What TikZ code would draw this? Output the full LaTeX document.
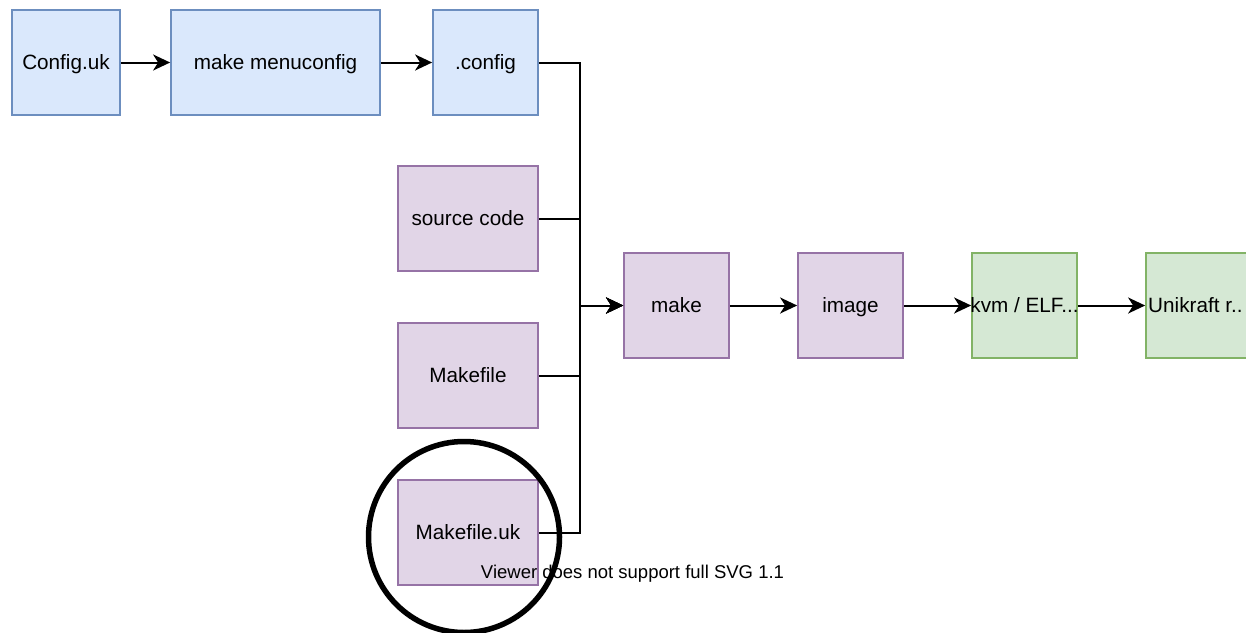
\documentclass[tikz,border=0pt]{standalone}
\usepackage{fontspec}
\setmainfont{Liberation Sans}
\usetikzlibrary{arrows.meta}
\definecolor{bluefill}{HTML}{DAE8FC}
\definecolor{bluedraw}{HTML}{6C8EBF}
\definecolor{purpfill}{HTML}{E1D5E7}
\definecolor{purpdraw}{HTML}{9673A6}
\definecolor{greenfill}{HTML}{D5E8D4}
\definecolor{greendraw}{HTML}{82B366}
\tikzset{
  boxbase/.style={rectangle, inner sep=0pt, minimum width=105pt, minimum height=105pt, line width=1.75pt, font=\fontsize{20.7}{24}\selectfont, text=black, text height=14.8pt, text depth=0pt},
  bluebox/.style={boxbase, fill=bluefill, draw=bluedraw},
  purpbox/.style={boxbase, fill=purpfill, draw=purpdraw},
  greenbox/.style={boxbase, fill=greenfill, draw=greendraw},
  conn/.style={line width=2pt, draw=black, -{Stealth[length=17pt, width=16pt, inset=5pt]}},
  labeltext/.style={font=\fontsize{20.7}{24}\selectfont, inner sep=0pt, text height=14.8pt, text depth=0pt},
}
\begin{document}
\begin{tikzpicture}[x=1pt, y=-1pt]
\useasboundingbox (0,0) rectangle (1246,632);
\clip (0,0) rectangle (1246,632);
\fill[white] (0,0) rectangle (1246,632);
\node[bluebox, minimum width=108pt] (cfguk) at (66,62.5) {Config.uk};
\node[bluebox, minimum width=209pt] (menu) at (275.5,62.5) {make menuconfig};
\node[bluebox] (cfg) at (485.5,62.5) {.config};
\node[purpbox, minimum width=140pt] (src) at (468,218.5) {source code};
\node[purpbox, minimum width=140pt] (mkf) at (468,375.5) {Makefile};
\node[purpbox, minimum width=140pt] (mkuk) at (468,532.5) {Makefile.uk};
\node[purpbox] (make) at (676.5,305.5) {make};
\node[purpbox] (img) at (850.5,305.5) {image};
\node[greenbox] (kvm) at (1024.5,305.5) {};
\node[greenbox] (uni) at (1198.5,305.5) {};
\coordinate (bus) at (580,305.5);
\draw[conn] (cfguk.east) -- (menu.west);
\draw[conn] (menu.east) -- (cfg.west);
\draw[conn] (cfg.east) -| (bus) -- (make.west);
\draw[conn] (src.east) -| (bus) -- (make.west);
\draw[conn] (mkf.east) -| (bus) -- (make.west);
\draw[conn] (mkuk.east) -| (bus) -- (make.west);
\draw[conn] (make.east) -- (img.west);
\draw[conn] (img.east) -- (kvm.west);
\draw[conn] (kvm.east) -- (uni.west);
\node[labeltext] (kvmtxt) at (kvm.center) {kvm / ELF...};
\node[labeltext, anchor=west] (unitxt) at (1148,305.5) {Unikraft r..};
\node[font=\fontsize{18.5}{21}\selectfont, inner sep=0pt, anchor=base] (warn) at (632.5,578) {Viewer does not support full SVG 1.1};
\node[circle, draw=black, line width=5.5pt, minimum size=191pt, inner sep=0pt] (ring) at (464,537) {};
\end{tikzpicture}
\end{document}
